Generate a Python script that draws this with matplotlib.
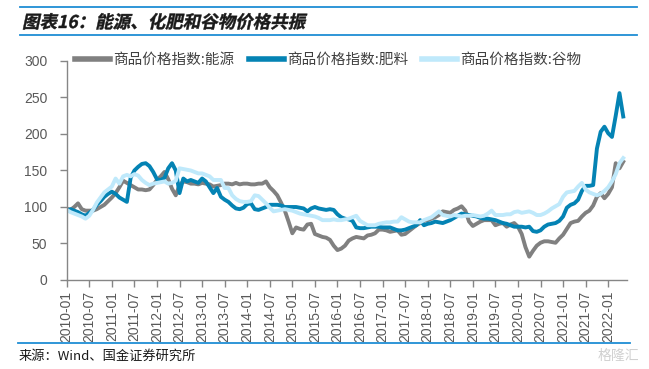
""" Energy, fertilizer and grain price indices, 2010-01 to 2022-05.
"""

###########
# Imports #
###########
import pandas as pd
import matplotlib
matplotlib.use("Agg")
import matplotlib.pyplot as plt
from matplotlib.lines import Line2D
from matplotlib.patches import PathPatch
from matplotlib.textpath import TextPath
from matplotlib.font_manager import FontProperties
from matplotlib.transforms import Affine2D

plt.rcParams['font.family'] = ['Liberation Sans', 'Noto Sans CJK SC', 'DejaVu Sans']
CJK = ['Noto Sans CJK SC', 'DejaVu Sans']

########
# Data #
########
dates = pd.date_range("2010-01", "2022-05", freq="MS")

energy = [
    98, 96, 100, 105, 97, 95, 95, 95, 97, 100, 103, 108,
    113, 119, 127, 136, 133, 130, 127, 124, 124, 123, 124, 130,
    137, 142, 148, 138, 125, 116, 130, 135, 134, 132, 132, 131,
    133, 132, 131, 128, 129, 130, 132, 132, 131, 133, 131, 132,
    132, 131, 131, 132, 132, 135, 127, 122, 116, 106, 95, 80,
    64, 72, 70, 69, 76, 77, 63, 61, 59, 58, 55, 47,
    41, 43, 47, 54, 57, 59, 58, 57, 61, 62, 64, 69,
    69, 68, 66, 67, 68, 62, 63, 67, 71, 75, 78, 81,
    82, 84, 86, 89, 94, 93, 92, 96, 98, 101, 95, 80,
    74, 77, 80, 82, 82, 82, 75, 77, 78, 73, 76, 78,
    73, 63, 45, 32, 40, 47, 51, 53, 53, 52, 51, 57,
    62, 70, 78, 80, 81, 87, 92, 95, 102, 114, 119, 112,
    118, 127, 160, 153, 162,
]

fertilizer = [
    94, 97, 95, 93, 90, 88, 92, 96, 103, 108, 114, 118,
    121, 118, 113, 110, 107, 140, 150, 155, 159, 160, 156, 148,
    138, 137, 140, 153, 160, 150, 119, 139, 135, 137, 135, 133,
    139, 135, 127, 119, 126, 114, 110, 107, 102, 98, 97, 99,
    104, 105, 97, 96, 98, 100, 103, 103, 103, 102, 100, 100,
    100, 100, 99, 98, 94, 98, 100, 98, 97, 96, 97, 96,
    90, 86, 84, 83, 81, 72, 71, 71, 72, 73, 73, 73,
    72, 72, 72, 70, 68, 68, 69, 71, 73, 75, 82, 75,
    77, 78, 80, 79, 78, 80, 82, 85, 88, 91, 90, 89,
    88, 87, 85, 84, 84, 83, 82, 80, 78, 77, 75, 73,
    73, 73, 72, 73, 67, 66, 68, 73, 76, 77, 78, 81,
    87, 99, 103, 105, 110, 122, 129, 129, 130, 180, 203, 210,
    201, 196, 225, 256, 224,
]

grains = [
    96, 93, 91, 89, 87, 84, 88, 96, 106, 113, 120, 124,
    128, 139, 132, 142, 144, 142, 145, 143, 137, 133, 130, 132,
    133, 134, 135, 132, 133, 136, 153, 152, 151, 150, 148, 146,
    146, 144, 142, 137, 137, 137, 126, 126, 116, 111, 108, 107,
    107, 108, 116, 115, 110, 105, 99, 94, 95, 96, 97, 96,
    95, 93, 91, 90, 89, 88, 87, 85, 82, 82, 82, 83,
    82, 82, 83, 84, 86, 88, 81, 78, 75, 75, 75, 77,
    78, 79, 79, 80, 80, 86, 83, 80, 79, 79, 79, 82,
    84, 86, 90, 94, 89, 88, 87, 89, 88, 87, 88, 88,
    89, 88, 87, 88, 91, 95, 89, 89, 89, 90, 90, 93,
    94, 92, 93, 94, 92, 89, 89, 91, 94, 98, 101, 104,
    114, 120, 121, 122, 128, 133, 124, 120, 118, 116, 118, 122,
    127, 135, 145, 160, 167,
]

labels = ["商品价格指数:能源", "商品价格指数:肥料", "商品价格指数:谷物"]
colors = ["#808080", "#0483b4", "#bfe9fb"]
title = "图表16：能源、化肥和谷物价格共振"
source = "来源：Wind、国金证券研究所"

########
# Plot #
########
fig = plt.figure(figsize=(6.49, 3.69), dpi=100)
ax = fig.add_axes([0.1028, 0.2412, 0.8633, 0.5935])

x = range(len(dates))
for series, label, color in zip([energy, fertilizer, grains], labels, colors):
    ax.plot(x, series, color=color, lw=2.8, label=label, solid_joinstyle="round")

ax.set_xlim(0, 149)
ax.set_ylim(0, 300)
ax.set_yticks(range(0, 301, 50))
tick_pos = list(range(0, len(dates), 6))
ax.set_xticks(tick_pos)
ax.set_xticklabels([dates[i].strftime("%Y-%m") for i in tick_pos], rotation=90)

for side in ["top", "right"]:
    ax.spines[side].set_visible(False)
for side in ["left", "bottom"]:
    ax.spines[side].set_color("#868686")
    ax.spines[side].set_linewidth(1.0)
ax.tick_params(axis="both", colors="#868686", labelcolor="#595959",
               labelsize=10, length=5, width=1.0)
ax.tick_params(axis="y", pad=9)
ax.tick_params(axis="x", pad=3)

# Legend across the top
handles = [Line2D([], [], color=c, lw=4) for c in colors]
fig.legend(handles, labels, loc="center", bbox_to_anchor=(0.506, 1 - 60 / 369),
           ncol=3, frameon=False, handlelength=2.4, handletextpad=0.2,
           columnspacing=1.0, prop={"family": CJK, "size": 10.5},
           labelcolor="#404040")

# Title block and source
line_color = "#1f8dd4"
fig.add_artist(Line2D([20 / 649, 637 / 649], [1 - 7 / 369] * 2, color=line_color, lw=1.3))
fig.add_artist(Line2D([20 / 649, 637 / 649], [1 - 35 / 369] * 2, color=line_color, lw=1.3))
fig.add_artist(Line2D([18 / 649, 630 / 649], [1 - 343 / 369] * 2, color=line_color, lw=1.3))

# slanted (italic-looking) title, drawn as a skewed text path in pixel space
tp = TextPath((0, 0), title, size=17.5,
              prop=FontProperties(family="Noto Sans CJK SC", weight="bold"))
skew = Affine2D().skew_deg(12, 0).translate(22, 369 - 28)
fig.add_artist(PathPatch(tp, transform=skew, facecolor="#1a1a1a",
                         edgecolor="#1a1a1a", lw=0.3))

fig.text(19 / 649, 1 - 356 / 369, source, family=CJK,
         fontsize=9.5, va="center", color="#1a1a1a")
fig.text(0.985, 1 - 356 / 369, "格隆汇", family=CJK, fontsize=10,
         ha="right", va="center", color="#d0d0d0")

fig.savefig("out.png", dpi=100)
